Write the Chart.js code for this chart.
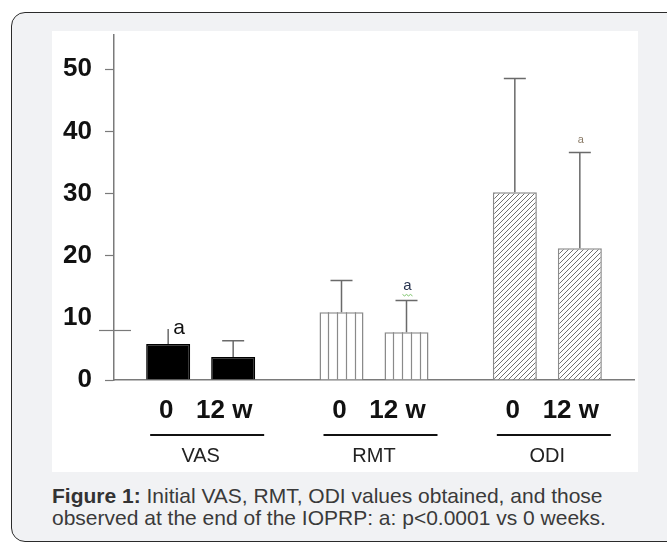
<!DOCTYPE html>
<html>
<head>
<meta charset="utf-8">
<script src="https://cdn.jsdelivr.net/npm/chart.js@4"></script>
<style>
  html, body { margin: 0; padding: 0; background: #fff; overflow: hidden; }
  body { width: 667px; height: 542px; position: relative; font-family: "Liberation Sans", Arial, sans-serif; }
  .card { position: absolute; left: 11px; top: 12px; width: 690px; height: 528px;
    background: #f1f2f4; border: 1.5px solid #2b2b2b; border-radius: 14px; }
  .panel { position: absolute; left: 52px; top: 31px; width: 586px; height: 441px; background: #fff; }
  .caption { position: absolute; left: 52px; top: 485px; font-size: 21px; line-height: 22px; color: #3a3a3a; white-space: nowrap; }
  .caption b { color: #333; }
</style>
</head>
<body>
<div class="card"></div>
<div class="panel"><canvas id="chart" width="586" height="441"></canvas></div>
<div class="caption"><b>Figure 1:</b> Initial VAS, RMT, ODI values obtained, and those<br>observed at the end of the IOPRP: a: p&lt;0.0001 vs 0 weeks.</div>
<script>
// groups on the x axis, two time points per group
const groups = ['VAS', 'RMT', 'ODI'];
const times = ['0', '12 w'];
const week0 = [5.8, 10.9, 30.2];
const week12 = [3.7, 7.7, 21.2];
// top of the error bar (mean + SD)
const week0Upper = [8.2, 16.0, 48.5];
const week12Upper = [6.3, 12.8, 36.6];
const week0Marks = ['a', '', ''];
const week12Marks = ['', 'a', 'a'];
const yTicks = [0, 10, 20, 30, 40, 50];

const ctx = document.getElementById('chart').getContext('2d');

// diagonal hatch for the ODI bars
function makeHatch() {
  const c = document.createElement('canvas');
  c.width = 5; c.height = 5;
  const g = c.getContext('2d');
  g.fillStyle = '#fff';
  g.fillRect(0, 0, 5, 5);
  g.strokeStyle = '#707070';
  g.lineWidth = 1;
  g.beginPath();
  g.moveTo(-1, 6); g.lineTo(6, -1);
  g.moveTo(-1, 1); g.lineTo(1, -1);
  g.moveTo(4, 6); g.lineTo(6, 4);
  g.stroke();
  return ctx.createPattern(c, 'repeat');
}
const fills = ['#000', '#fff', makeHatch()];
const borders = ['#000', '#8a8a8a', '#8a8a8a'];

const barExtras = {
  id: 'barExtras',
  afterDatasetsDraw(chart, args, opts) {
    const c = chart.ctx;
    const y = chart.scales.y;
    const area = chart.chartArea;
    c.save();
    chart.data.datasets.forEach((ds, di) => {
      const meta = chart.getDatasetMeta(di);
      meta.data.forEach((bar, i) => {
        const p = bar.getProps(['x', 'y', 'base', 'width'], true);
        const left = p.x - p.width / 2;
        // vertical stripes inside RMT bars
        if (i === opts.striped) {
          c.strokeStyle = '#8a8a8a';
          c.lineWidth = 1.2;
          c.beginPath();
          for (let k = 1; k < 5; k++) {
            const sx = Math.round(left + p.width * k / 5) + 0.5;
            c.moveTo(sx, p.y); c.lineTo(sx, p.base);
          }
          c.stroke();
        }
        // error bar
        const top = y.getPixelForValue(ds.upper[i]);
        c.strokeStyle = '#6a6a6a';
        c.lineWidth = 1.5;
        c.beginPath();
        c.moveTo(p.x, p.y); c.lineTo(p.x, top);
        const noCap = di === 0 && i === 0;
        if (!noCap) {
          c.moveTo(p.x - 11, top); c.lineTo(p.x + 11, top);
        }
        c.stroke();
        // significance mark
        const m = ds.marks[i];
        if (m) {
          const st = opts.markStyle[i];
          c.fillStyle = st.color;
          c.font = st.size + 'px "Liberation Sans", Arial, sans-serif';
          if (noCap) {
            c.textAlign = 'left'; c.textBaseline = 'middle';
            c.fillText(m, p.x + 5, top - 1);
          } else {
            c.textAlign = 'center'; c.textBaseline = 'bottom';
            c.fillText(m, p.x + 1, top - 7);
            if (st.squiggle) {
              c.strokeStyle = '#7cc46a'; c.lineWidth = 1;
              c.beginPath();
              for (let k = -5; k <= 5; k += 2) {
                c.lineTo(p.x + 1 + k, top - 6 + (k % 4 === 1 || k % 4 === -3 ? 1.5 : 0));
              }
              c.stroke();
            }
          }
        }
      });
    });
    // the stray long tick near 10
    const ty = Math.round(y.getPixelForValue(opts.longTick)) + 0.5;
    c.strokeStyle = '#7a7a7a';
    c.lineWidth = 1.2;
    c.beginPath();
    c.moveTo(area.left - 15, ty); c.lineTo(area.left + 17, ty);
    c.stroke();
    c.restore();
  },
  afterDraw(chart) {
    // time point labels and group underlines
    const c = chart.ctx;
    const m0 = chart.getDatasetMeta(0);
    const m1 = chart.getDatasetMeta(1);
    const bottom = chart.chartArea.bottom;
    c.save();
    c.fillStyle = '#111';
    c.font = 'bold 26px "Liberation Sans", Arial, sans-serif';
    c.textAlign = 'center';
    c.textBaseline = 'middle';
    groups.forEach((g, i) => {
      const x0 = m0.data[i].x;
      const x1 = m1.data[i].x;
      c.fillText(times[0], x0 - 2, bottom + 31);
      c.fillText(times[1], x1 - 9, bottom + 31);
      c.strokeStyle = '#111';
      c.lineWidth = 2;
      c.beginPath();
      c.moveTo(x0 - 18, bottom + 55); c.lineTo(x1 + 31, bottom + 55);
      c.stroke();
    });
    c.restore();
  }
};

new Chart(ctx, {
  type: 'bar',
  data: {
    labels: groups,
    datasets: [
      { label: times[0], data: week0, upper: week0Upper, marks: week0Marks,
        backgroundColor: fills, borderColor: borders, borderWidth: 1.5 },
      { label: times[1], data: week12, upper: week12Upper, marks: week12Marks,
        backgroundColor: fills, borderColor: borders, borderWidth: 1.5 }
    ]
  },
  options: {
    responsive: false,
    animation: false,
    categoryPercentage: 0.75,
    barPercentage: 0.677,
    layout: { padding: { top: 4, right: 4, left: 0, bottom: 0 } },
    plugins: {
      legend: { display: false },
      tooltip: { enabled: false },
      barExtras: {
        striped: 1,
        longTick: 8,
        markStyle: [
          { size: 21, color: '#111' },
          { size: 15, color: '#2a3550', squiggle: true },
          { size: 11, color: '#8a7a66' }
        ]
      }
    },
    scales: {
      x: {
        grid: { display: false, drawTicks: false },
        border: { color: '#7a7a7a', width: 1.5 },
        ticks: {
          padding: 64,
          color: '#222',
          font: { family: '"Liberation Sans", Arial, sans-serif', size: 20 }
        },
        afterFit(scale) {
          scale.height = 92;
          scale.paddingLeft = 0; scale.paddingRight = 0;
        }
      },
      y: {
        min: 0,
        max: 55.5,
        afterBuildTicks(scale) {
          scale.ticks = yTicks.map(v => ({ value: v }));
        },
        grid: {
          drawOnChartArea: false,
          drawTicks: true,
          tickLength: 9,
          tickWidth: 1.2,
          tickColor: c => (c.tick && c.tick.value === 10) ? 'rgba(0,0,0,0)' : '#7a7a7a'
        },
        border: { color: '#7a7a7a', width: 1.5 },
        ticks: {
          padding: 13,
          color: '#111',
          font: { family: '"Liberation Sans", Arial, sans-serif', size: 26, weight: 'bold' }
        },
        afterFit(scale) {
          scale.width = 62;
          scale.paddingTop = 0; scale.paddingBottom = 0;
        }
      }
    }
  },
  plugins: [barExtras]
});
</script>
</body>
</html>
